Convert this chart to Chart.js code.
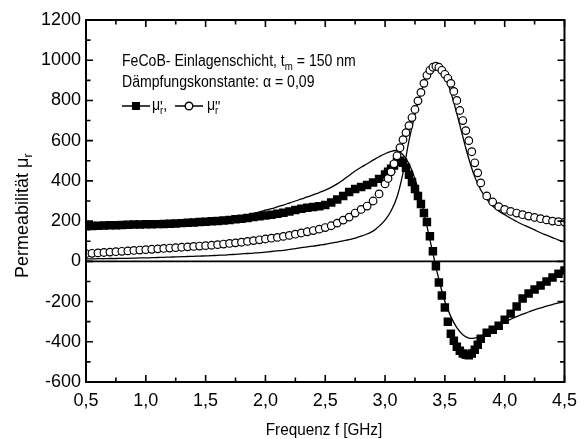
<!DOCTYPE html>
<html>
<head>
<meta charset="utf-8">
<script src="https://cdn.jsdelivr.net/npm/chart.js@4.4.1/dist/chart.umd.min.js"></script>
<style>
  html, body { margin: 0; padding: 0; background: #fff; }
  #chart { display: block; }
</style>
</head>
<body>
<canvas id="chart" width="585" height="439"></canvas>
<script>
const FONT = '"Liberation Sans", Arial, Helvetica, sans-serif';

// measured frequencies (GHz), denser around the resonance
const freq = [
  0.50, 0.55, 0.60, 0.65, 0.70, 0.75, 0.80, 0.85, 0.90, 0.95,
  1.00, 1.05, 1.10, 1.15, 1.20, 1.25, 1.30, 1.35, 1.40, 1.45,
  1.50, 1.55, 1.60, 1.65, 1.70, 1.75, 1.80, 1.85, 1.90, 1.95,
  2.00, 2.05, 2.10, 2.15, 2.20, 2.25, 2.30, 2.35, 2.40, 2.45,
  2.50, 2.55, 2.60, 2.65, 2.70, 2.75, 2.80, 2.85, 2.90, 2.95,
  3.000, 3.025, 3.050, 3.075, 3.100, 3.125, 3.150, 3.175, 3.200, 3.225,
  3.250, 3.275, 3.300, 3.325, 3.350, 3.375, 3.400, 3.425, 3.450, 3.475,
  3.500, 3.525, 3.550, 3.575, 3.600, 3.625, 3.650, 3.675, 3.700, 3.725,
  3.750, 3.775, 3.800,
  3.85, 3.90, 3.95, 4.00, 4.05, 4.10, 4.15, 4.20, 4.25, 4.30, 4.35, 4.40, 4.45, 4.50
];

// mu'_r measured (filled squares)
const muReal = [
  175, 176, 177, 178, 179, 180, 181, 182, 183, 183,
  184, 184, 185, 186, 187, 188, 190, 192, 193, 195,
  197, 199, 201, 203, 206, 209, 212, 216, 220, 224,
  228, 232, 237, 242, 248, 255, 262, 266, 270, 274,
  280, 292, 308, 325, 345, 360, 370, 380, 392, 410,
  432, 445, 460, 477, 495, 500, 490, 465, 430, 395,
  360, 325, 285, 240, 195, 125, 50, -25, -105, -170,
  -230, -300, -360, -395, -425, -445, -458, -465, -467, -458,
  -440, -415, -385,
  -355, -340, -320, -290, -260, -225, -185, -160, -140, -120, -100, -80, -62, -45
];

// mu''_r measured (open circles)
const muImag = [
  38, 40, 42, 44, 46, 48, 50, 52, 54, 56,
  58, 60, 62, 64, 66, 68, 70, 72, 74, 76,
  78, 80, 83, 86, 89, 92, 95, 99, 103, 107,
  111, 115, 119, 124, 129, 135, 141, 147, 153, 160,
  168, 177, 190, 205, 220, 240, 258, 275, 300, 335,
  385, 412, 445, 485, 525, 565, 605, 640, 675, 715,
  755, 798, 840, 885, 925, 950, 965, 970, 965, 950,
  930, 910, 885, 845, 800, 750, 700, 650, 600, 545,
  490, 440, 390,
  325, 295, 272, 258, 248, 240, 232, 225, 218, 212, 206, 200, 197, 195
];

// fitted curves (thin lines)
const fitFreq = [
  0.50, 0.55, 0.60, 0.65, 0.70, 0.75, 0.80, 0.85, 0.90, 0.95,
  1.00, 1.05, 1.10, 1.15, 1.20, 1.25, 1.30, 1.35, 1.40, 1.45,
  1.50, 1.55, 1.60, 1.65, 1.70, 1.75, 1.80, 1.85, 1.90, 1.95,
  2.00, 2.05, 2.10, 2.15, 2.20, 2.25, 2.30, 2.35, 2.40, 2.45,
  2.50, 2.55, 2.60, 2.65, 2.70, 2.75, 2.80, 2.85, 2.90, 2.95,
  3.00, 3.05, 3.10, 3.15, 3.20, 3.25, 3.30, 3.35, 3.40, 3.45,
  3.50, 3.55, 3.60, 3.65, 3.70, 3.75, 3.80, 3.85, 3.90, 3.95,
  4.00, 4.05, 4.10, 4.15, 4.20, 4.25, 4.30, 4.35, 4.40, 4.45, 4.50
];
const fitReal = [
  165, 166, 167, 168, 169, 170, 172, 173, 175, 176,
  178, 180, 182, 184, 186, 188, 191, 193, 196, 199,
  202, 205, 209, 213, 217, 221, 226, 232, 239, 246,
  254, 262, 271, 280, 290, 300, 310, 320, 331, 342,
  354, 368, 385, 405, 427, 449, 468, 485, 503, 520,
  535, 547, 550, 530, 485, 410, 305, 175, 40, -90,
  -200, -275, -330, -365, -382, -382, -372, -355, -337, -318,
  -302, -288, -275, -263, -252, -241, -232, -223, -215, -207, -200
];
const fitImag = [
  12, 12, 13, 13, 14, 14, 15, 15, 16, 17,
  17, 18, 19, 20, 21, 22, 23, 24, 25, 26,
  27, 28, 30, 31, 33, 35, 37, 39, 41, 43,
  46, 49, 52, 55, 59, 63, 68, 72, 76, 80,
  85, 90, 96, 102, 108, 116, 125, 136, 150, 175,
  205, 250, 320, 440, 600, 730, 840, 920, 955, 955,
  920, 840, 735, 620, 510, 420, 355, 310, 275, 250,
  232, 214, 198, 183, 170, 156, 142, 130, 118, 106, 96
];

const xTicks = [0.5, 1.0, 1.5, 2.0, 2.5, 3.0, 3.5, 4.0, 4.5];
const yTicks = [-600, -400, -200, 0, 200, 400, 600, 800, 1000, 1200];

const pts = (xs, ys) => xs.map((x, i) => ({ x: x, y: ys[i] }));

// draw text pieces with sub/superscripts, optionally squeezed horizontally
function drawRuns(ctx, x, y, parts, sx) {
  ctx.save();
  ctx.translate(x, y);
  ctx.scale(sx, 1);
  let cx = 0;
  parts.forEach(p => {
    ctx.font = (p.size || 16) + 'px ' + FONT;
    ctx.fillText(p.t, cx, p.dy || 0);
    if (!p.keep) cx += ctx.measureText(p.t).width;
  });
  ctx.restore();
  return x + cx * sx;
}

const decor = {
  id: 'decor',
  beforeDraw(chart) {
    const ctx = chart.ctx;
    ctx.save();
    ctx.fillStyle = '#fff';
    ctx.fillRect(0, 0, chart.width, chart.height);
    ctx.restore();
  },
  beforeDatasetsDraw(chart) {
    const { ctx, chartArea: a, scales: { y } } = chart;
    const y0 = y.getPixelForValue(0);
    ctx.save();
    ctx.strokeStyle = '#000';
    ctx.lineWidth = 1.6;
    ctx.beginPath();
    ctx.moveTo(a.left, y0);
    ctx.lineTo(a.right, y0);
    ctx.stroke();
    ctx.restore();
  },
  afterDraw(chart) {
    const { ctx, chartArea: a, scales: { x, y } } = chart;
    ctx.save();
    ctx.strokeStyle = '#000';
    ctx.fillStyle = '#000';

    // frame
    ctx.lineWidth = 2;
    ctx.strokeRect(a.left, a.top, a.right - a.left, a.bottom - a.top);

    // inward ticks on all four sides
    ctx.lineWidth = 1.6;
    ctx.beginPath();
    for (let v = -600; v <= 1200; v += 100) {
      const py = y.getPixelForValue(v);
      const len = v % 200 === 0 ? 7 : 4.5;
      ctx.moveTo(a.left, py); ctx.lineTo(a.left + len, py);
      ctx.moveTo(a.right, py); ctx.lineTo(a.right - len, py);
    }
    for (let k = 0; k <= 16; k++) {
      const v = 0.5 + k * 0.25;
      const px = x.getPixelForValue(v);
      const len = k % 2 === 0 ? 7 : 4.5;
      ctx.moveTo(px, a.bottom); ctx.lineTo(px, a.bottom - len);
      ctx.moveTo(px, a.top); ctx.lineTo(px, a.top + len);
    }
    ctx.stroke();

    // annotation text
    ctx.textBaseline = 'alphabetic';
    drawRuns(ctx, 122, 66, [
      { t: 'FeCoB- Einlagenschicht, t' },
      { t: 'm', size: 11, dy: 4 },
      { t: ' = 150 nm' }
    ], 0.88);
    drawRuns(ctx, 122, 87, [{ t: 'Dämpfungskonstante: α = 0,09' }], 0.88);

    // legend line
    const ly = 106;
    ctx.lineWidth = 1.4;
    ctx.beginPath();
    ctx.moveTo(122, ly); ctx.lineTo(150, ly);
    ctx.moveTo(175, ly); ctx.lineTo(203, ly);
    ctx.stroke();
    ctx.fillRect(132, ly - 4, 8, 8);
    ctx.beginPath();
    ctx.arc(189, ly, 3.8, 0, Math.PI * 2);
    ctx.fillStyle = '#fff';
    ctx.fill();
    ctx.stroke();
    ctx.fillStyle = '#000';
    drawRuns(ctx, 152, 110, [
      { t: 'μ' },
      { t: "'", size: 16, dy: 3, keep: true },
      { t: 'r', size: 11, dy: 4 },
      { t: ',' }
    ], 0.88);
    drawRuns(ctx, 207, 110, [
      { t: 'μ' },
      { t: "''", size: 16, dy: 3, keep: true },
      { t: 'r', size: 11, dy: 4 }
    ], 0.88);

    // axis titles
    ctx.font = '17px ' + FONT;
    const xt = 'Frequenz f [GHz]';
    const w = ctx.measureText(xt).width * 0.9;
    drawRuns(ctx, 324 - w / 2, 435, [{ t: xt, size: 17 }], 0.9);

    ctx.translate(28, 278);
    ctx.rotate(-Math.PI / 2);
    drawRuns(ctx, 0, 0, [
      { t: 'Permeabilität μ', size: 18 },
      { t: 'r', size: 12, dy: 4 }
    ], 1);
    ctx.restore();
  }
};

new Chart(document.getElementById('chart'), {
  type: 'line',
  data: {
    datasets: [
      {
        label: "mu'' measured",
        data: pts(freq, muImag),
        showLine: false,
        pointStyle: 'circle',
        pointRadius: 3.8,
        pointBackgroundColor: '#fff',
        pointBorderColor: '#000',
        pointBorderWidth: 1.2,
        order: 0
      },
      {
        label: "mu' measured",
        data: pts(freq, muReal),
        showLine: false,
        pointStyle: 'rect',
        pointRadius: 6,
        pointBackgroundColor: '#000',
        pointBorderColor: '#000',
        pointBorderWidth: 0,
        order: 1
      },
      {
        label: "mu' fit",
        data: pts(fitFreq, fitReal),
        borderColor: '#000',
        borderWidth: 1.3,
        pointRadius: 0,
        tension: 0.4,
        fill: false,
        order: 2
      },
      {
        label: "mu'' fit",
        data: pts(fitFreq, fitImag),
        borderColor: '#000',
        borderWidth: 1.3,
        pointRadius: 0,
        tension: 0.4,
        fill: false,
        order: 2
      }
    ]
  },
  options: {
    responsive: false,
    animation: false,
    layout: { padding: { left: 0, right: 20, top: 20, bottom: 0 } },
    plugins: { legend: { display: false }, tooltip: { enabled: false } },
    scales: {
      x: {
        type: 'linear',
        min: 0.5,
        max: 4.5,
        afterFit: s => { s.height = 57; },
        afterBuildTicks: s => { s.ticks = xTicks.map(v => ({ value: v })); },
        grid: { display: false, drawTicks: false },
        border: { display: false },
        ticks: {
          autoSkip: false,
          maxRotation: 0,
          padding: 8,
          color: '#000',
          font: { family: FONT, size: 18 },
          callback: v => v.toFixed(1).replace('.', ',')
        }
      },
      y: {
        min: -600,
        max: 1200,
        afterFit: s => { s.width = 86; },
        afterBuildTicks: s => { s.ticks = yTicks.map(v => ({ value: v })); },
        grid: { display: false, drawTicks: false },
        border: { display: false },
        ticks: {
          autoSkip: false,
          padding: 5,
          color: '#000',
          font: { family: FONT, size: 18 },
          callback: v => String(v)
        }
      }
    }
  },
  plugins: [decor]
});
</script>
</body>
</html>
